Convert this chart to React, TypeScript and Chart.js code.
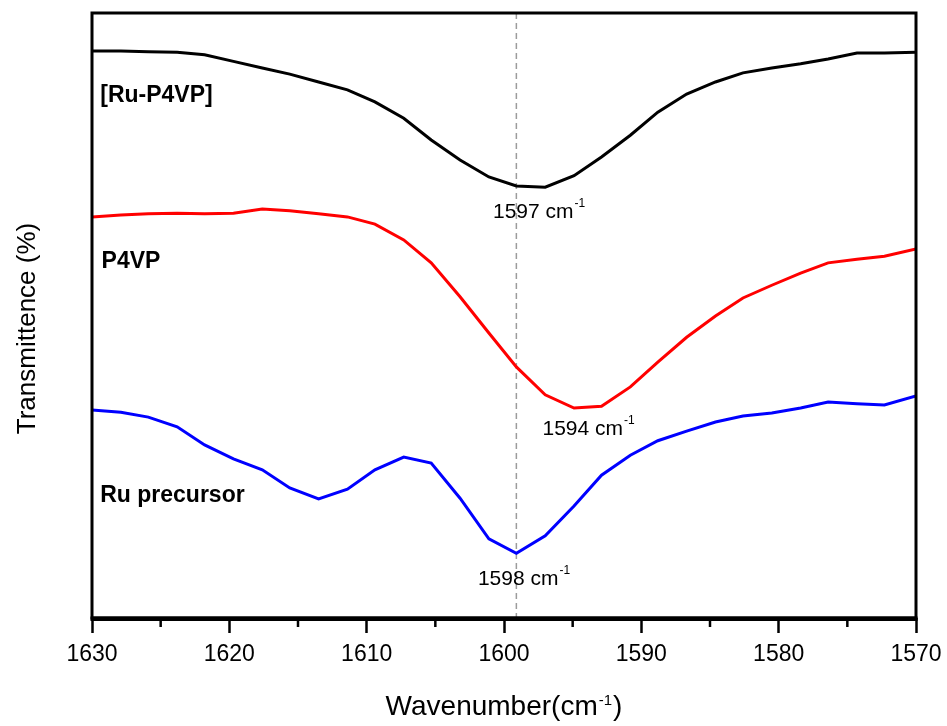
import React, { useEffect, useRef } from 'react';
import { Chart, registerables } from 'chart.js';

Chart.register(...registerables);

// ---- data ----
const wavenumbers = [
  1630.0, 1627.9, 1625.9, 1623.8, 1621.8, 1619.7, 1617.6, 1615.6, 1613.5, 1611.4,
  1609.4, 1607.3, 1605.3, 1603.2, 1601.1, 1599.1, 1597.0, 1594.9, 1592.9, 1590.8,
  1588.8, 1586.7, 1584.6, 1582.6, 1580.5, 1578.4, 1576.4, 1574.3, 1572.3, 1570.0,
];

const ruP4vp = [
  93.7, 93.7, 93.6, 93.5, 93.1, 92.0, 90.9, 89.9, 88.6, 87.3,
  85.3, 82.6, 79.0, 75.7, 72.9, 71.4, 71.2, 73.1, 76.2, 79.8,
  83.6, 86.6, 88.6, 90.1, 90.9, 91.6, 92.4, 93.4, 93.4, 93.5,
];

const p4vp = [
  66.3, 66.6, 66.8, 66.9, 66.8, 66.9, 67.6, 67.3, 66.8, 66.3,
  65.1, 62.5, 58.7, 53.1, 47.1, 41.5, 36.9, 34.7, 35.0, 38.2,
  42.3, 46.4, 49.9, 52.9, 55.0, 57.0, 58.7, 59.3, 59.8, 61.0,
];

const ruPrecursor = [
  34.4, 34.0, 33.2, 31.6, 28.6, 26.3, 24.5, 21.5, 19.7, 21.3,
  24.5, 26.6, 25.6, 19.8, 13.1, 10.7, 13.6, 18.5, 23.6, 26.9,
  29.3, 30.9, 32.4, 33.4, 33.9, 34.7, 35.7, 35.4, 35.2, 36.7,
];

const seriesNames = ['[Ru-P4VP]', 'P4VP', 'Ru precursor'];
const seriesColors = ['#000000', '#ff0000', '#0000ff'];
// where each series name is written (wavenumber, value of baseline)
const nameAnchorX = [1629.4, 1629.3, 1629.4];
const nameAnchorY = [85.3, 57.9, 19.2];

const peakLabels = ['1597', '1594', '1598'];
const peakAnchorX = [1600.8, 1597.2, 1601.9];
const peakAnchorY = [66.1, 30.2, 5.5];

const markerWavenumber = 1599.1;

const X_MIN = 1570;
const X_MAX = 1630;
const Y_MIN = 0;
const Y_MAX = 100;

const FONT = "'Liberation Sans', Arial, Helvetica, sans-serif";

function drawWithSup(
  ctx: CanvasRenderingContext2D,
  x: number,
  y: number,
  main: string,
  sup: string,
  tail: string,
  mainSize: number,
  supSize: number,
  supRise: number,
  align: 'left' | 'center'
) {
  ctx.font = `${mainSize}px ${FONT}`;
  const wMain = ctx.measureText(main).width;
  const wTail = ctx.measureText(tail).width;
  ctx.font = `${supSize}px ${FONT}`;
  const wSup = ctx.measureText(sup).width;
  const gap = 1;
  const total = wMain + gap + wSup + gap + wTail;
  let sx = align === 'center' ? x - total / 2 : x;
  ctx.textAlign = 'left';
  ctx.textBaseline = 'alphabetic';
  ctx.font = `${mainSize}px ${FONT}`;
  ctx.fillText(main, sx, y);
  sx += wMain + gap;
  ctx.font = `${supSize}px ${FONT}`;
  ctx.fillText(sup, sx, y - supRise);
  sx += wSup + gap;
  if (tail) {
    ctx.font = `${mainSize}px ${FONT}`;
    ctx.fillText(tail, sx, y);
  }
}

const underlay = {
  id: 'underlay',
  beforeDatasetsDraw(chart: any) {
    const { ctx, chartArea: a, scales } = chart;
    const dx = scales.x.getPixelForValue(markerWavenumber);
    ctx.save();
    ctx.strokeStyle = '#9c9c9c';
    ctx.lineWidth = 1.5;
    ctx.setLineDash([6, 4]);
    ctx.beginPath();
    ctx.moveTo(dx, a.top);
    ctx.lineTo(dx, a.bottom);
    ctx.stroke();
    ctx.restore();
  },
};

const overlay = {
  id: 'overlay',
  afterDraw(chart: any) {
    const { ctx, chartArea: a, scales } = chart;
    const xs = scales.x;
    const ys = scales.y;
    ctx.save();
    // frame
    ctx.strokeStyle = '#000';
    ctx.lineWidth = 3;
    ctx.strokeRect(a.left, a.top, a.right - a.left, a.bottom - a.top);
    ctx.fillStyle = '#000';
    ctx.fillRect(a.left - 1.5, a.bottom - 1.5, a.right - a.left + 3, 4.5);
    // minor ticks
    ctx.lineWidth = 2.5;
    for (const t of xs.ticks) {
      if (t.value % 10 !== 0) {
        const px = xs.getPixelForValue(t.value);
        ctx.beginPath();
        ctx.moveTo(px, a.bottom);
        ctx.lineTo(px, a.bottom + 9);
        ctx.stroke();
      }
    }
    // series names
    ctx.fillStyle = '#000';
    ctx.textAlign = 'left';
    ctx.textBaseline = 'alphabetic';
    ctx.font = `bold 23px ${FONT}`;
    seriesNames.forEach((n, i) => {
      ctx.fillText(n, xs.getPixelForValue(nameAnchorX[i]), ys.getPixelForValue(nameAnchorY[i]));
    });
    // peak labels
    peakLabels.forEach((p, i) => {
      drawWithSup(
        ctx,
        xs.getPixelForValue(peakAnchorX[i]),
        ys.getPixelForValue(peakAnchorY[i]),
        `${p} cm`,
        '-1',
        '',
        21,
        12,
        11,
        'left'
      );
    });
    // x-axis title
    const cx = (a.left + a.right) / 2;
    drawWithSup(ctx, cx, a.bottom + 97, 'Wavenumber(cm', '-1', ')', 28, 15, 10, 'center');
    // y-axis title
    ctx.save();
    ctx.translate(35, (a.top + a.bottom) / 2 + 13);
    ctx.rotate(-Math.PI / 2);
    ctx.textAlign = 'center';
    ctx.textBaseline = 'alphabetic';
    ctx.font = `26px ${FONT}`;
    ctx.fillText('Transmittence (%)', 0, 0);
    ctx.restore();
    ctx.restore();
  },
};

export default function App() {
  const canvasRef = useRef<HTMLCanvasElement | null>(null);

  useEffect(() => {
    document.body.style.margin = '0';
    document.body.style.overflow = 'hidden';
    const canvas = canvasRef.current;
    if (!canvas) return;
    const mk = (data: number[]) => wavenumbers.map((w, i) => ({ x: w, y: data[i] }));
    const all = [ruP4vp, p4vp, ruPrecursor];
    const chart = new Chart(canvas, {
      type: 'line',
      data: {
        datasets: all.map((d, i) => ({
          label: seriesNames[i],
          data: mk(d),
          borderColor: seriesColors[i],
          borderWidth: 3,
          pointRadius: 0,
          tension: 0,
          fill: false,
        })),
      },
      options: {
        animation: false,
        responsive: true,
        maintainAspectRatio: false,
        devicePixelRatio: 1,
        layout: { padding: { left: 92, right: 31, top: 13, bottom: 0 } },
        plugins: {
          legend: { display: false },
          tooltip: { enabled: false },
          title: { display: false },
        },
        scales: {
          x: {
            type: 'linear',
            reverse: true,
            min: X_MIN,
            max: X_MAX,
            border: { display: false },
            grid: {
              drawOnChartArea: false,
              drawTicks: true,
              tickLength: 15,
              tickWidth: 2.5,
              tickColor: (c: any) => (c.tick && c.tick.value % 10 === 0 ? '#000' : 'rgba(0,0,0,0)'),
            },
            ticks: {
              stepSize: 5,
              color: '#000',
              padding: 8,
              maxRotation: 0,
              autoSkip: false,
              font: { family: FONT, size: 23 },
              callback: (v: any) => (Number(v) % 10 === 0 ? String(v) : ''),
            },
            afterFit: (s: any) => {
              s.height = 108;
              s.paddingLeft = 0;
              s.paddingRight = 0;
            },
          },
          y: {
            type: 'linear',
            display: false,
            min: Y_MIN,
            max: Y_MAX,
          },
        },
      },
      plugins: [underlay, overlay],
    });
    return () => chart.destroy();
  }, []);

  return (
    <div
      style={{
        position: 'fixed',
        left: 0,
        top: 0,
        width: 947,
        height: 726,
        overflow: 'hidden',
        background: '#fff',
      }}
    >
      <canvas ref={canvasRef} style={{ display: 'block' }} />
    </div>
  );
}
